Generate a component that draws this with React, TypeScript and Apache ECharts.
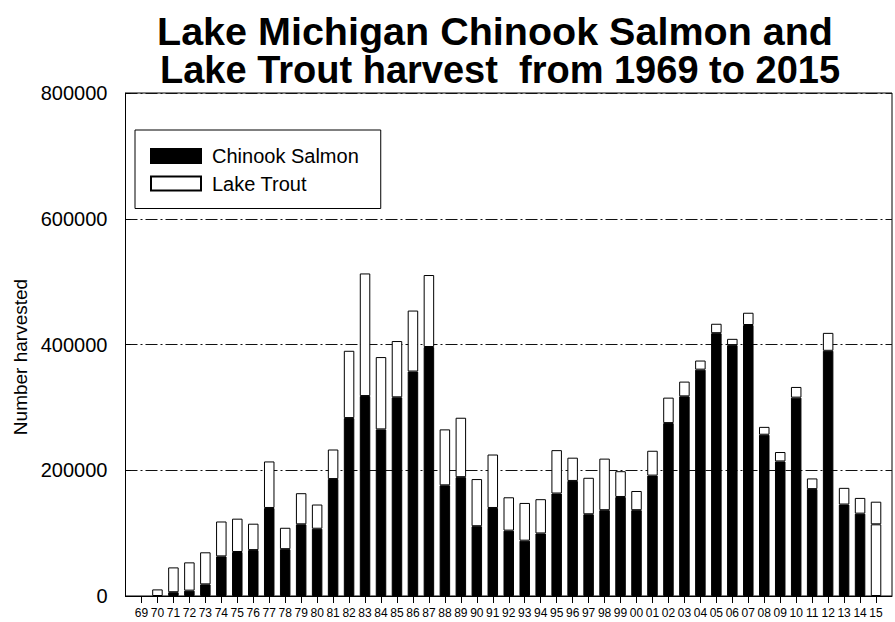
import React, { useEffect, useRef } from "react";
import * as echarts from "echarts";

const years = [
  "69", "70", "71", "72", "73", "74", "75", "76", "77", "78", "79", "80",
  "81", "82", "83", "84", "85", "86", "87", "88", "89", "90", "91", "92",
  "93", "94", "95", "96", "97", "98", "99", "00", "01", "02", "03", "04",
  "05", "06", "07", "08", "09", "10", "11", "12", "13", "14", "15",
];

const chinook = [
  0, 0, 6000, 8500, 18500, 63000, 70000, 73000, 140000, 74500, 114000, 107000,
  186000, 283000, 318000, 265000, 316000, 357000, 396000, 176000, 189000, 111000, 140000, 104000,
  88000, 99500, 163000, 183000, 130000, 136500, 157500, 136500, 191500, 275000, 317500, 360000,
  418000, 399000, 431000, 256500, 214000, 315500, 170000, 390000, 145500, 131000, 114000,
];

const lakeTrout = [
  0, 10500, 39500, 45000, 51000, 55500, 53000, 42000, 74000, 34000, 49500, 38500,
  47000, 107000, 195000, 115000, 89500, 97000, 114500, 89000, 94500, 75000, 85000, 53000,
  60000, 54500, 69000, 37000, 58000, 82000, 41000, 30500, 39500, 40500, 23500, 14500,
  15000, 10000, 19500, 12500, 15000, 17000, 17000, 28500, 26500, 25000, 36000,
];

const whiteFillYears = ["15"];

const FONT = "'Liberation Sans', Arial, sans-serif";

export default function App() {
  const ref = useRef<HTMLDivElement>(null);

  useEffect(() => {
    if (!ref.current) return;
    const chart = echarts.init(ref.current, null, { renderer: "svg" });

    const xData = ["", ...years, ""];
    const chinookData: any[] = [
      "-",
      ...chinook.map((v, i) =>
        v === 0
          ? "-"
          : whiteFillYears.includes(years[i])
          ? { value: v, itemStyle: { color: "#fff" } }
          : v
      ),
      "-",
    ];
    const troutData: any[] = ["-", ...lakeTrout.map((v) => (v === 0 ? "-" : v)), "-"];

    chart.setOption({
      animation: false,
      textStyle: { fontFamily: FONT },
      grid: {
        left: 125.5,
        top: 93,
        width: 781,
        height: 503,
        show: true,
        borderColor: "#000",
        borderWidth: 1,
        backgroundColor: "transparent",
      },
      legend: {
        orient: "vertical",
        left: 135,
        top: 130,
        padding: [16, 22, 15, 15],
        borderColor: "#000",
        borderWidth: 1,
        itemWidth: 50,
        itemHeight: 14,
        itemGap: 7.5,
        icon: "rect",
        textStyle: {
          fontSize: 20,
          lineHeight: 20,
          color: "#000",
          fontFamily: FONT,
          padding: [0, 0, 0, 6],
        },
        data: ["Chinook Salmon", "Lake Trout"],
      },
      graphic: [
        {
          type: "text",
          x: 495,
          y: 31,
          style: {
            text: "Lake Michigan Chinook Salmon and",
            font: `bold 39.5px ${FONT}`,
            fill: "#000",
            align: "center",
            verticalAlign: "middle",
          },
        },
        {
          type: "text",
          x: 500,
          y: 70,
          style: {
            text: "Lake Trout harvest  from 1969 to 2015",
            font: `bold 38px ${FONT}`,
            fill: "#000",
            align: "center",
            verticalAlign: "middle",
          },
        },
        {
          type: "text",
          x: 20,
          y: 357,
          rotation: Math.PI / 2,
          style: {
            text: "Number harvested",
            font: `19px ${FONT}`,
            fill: "#000",
            align: "center",
            verticalAlign: "middle",
          },
        },
      ],
      xAxis: {
        type: "category",
        data: xData,
        boundaryGap: false,
        axisLine: { lineStyle: { color: "#000", width: 1 } },
        axisTick: {
          show: true,
          length: 7,
          interval: (i: number) => i > 0 && i < xData.length - 1,
          lineStyle: { color: "#000" },
        },
        axisLabel: {
          interval: 0,
          fontSize: 12,
          color: "#000",
          margin: 11,
          fontFamily: FONT,
        },
        splitLine: { show: false },
      },
      yAxis: {
        type: "value",
        min: 0,
        max: 800000,
        interval: 200000,
        axisLine: { show: true, lineStyle: { color: "#000", width: 1 } },
        axisTick: { show: true, inside: true, length: 5, lineStyle: { color: "#000" } },
        axisLabel: {
          fontSize: 20,
          color: "#000",
          margin: 18,
          fontFamily: FONT,
          formatter: (v: number) => String(v),
        },
        splitLine: {
          show: true,
          lineStyle: { color: "#111", width: 1, type: [12, 3, 2, 3] },
        },
      },
      series: [
        {
          name: "Chinook Salmon",
          type: "bar",
          stack: "harvest",
          barWidth: 10.5,
          data: chinookData,
          itemStyle: { color: "#000", borderColor: "#000", borderWidth: 1 },
        },
        {
          name: "Lake Trout",
          type: "bar",
          stack: "harvest",
          barWidth: 10.5,
          data: troutData,
          itemStyle: { color: "#fff", borderColor: "#000", borderWidth: 1 },
        },
      ],
    });

    return () => chart.dispose();
  }, []);

  return (
    <div
      ref={ref}
      style={{ position: "absolute", left: 0, top: 0, width: 895, height: 622 }}
    />
  );
}
